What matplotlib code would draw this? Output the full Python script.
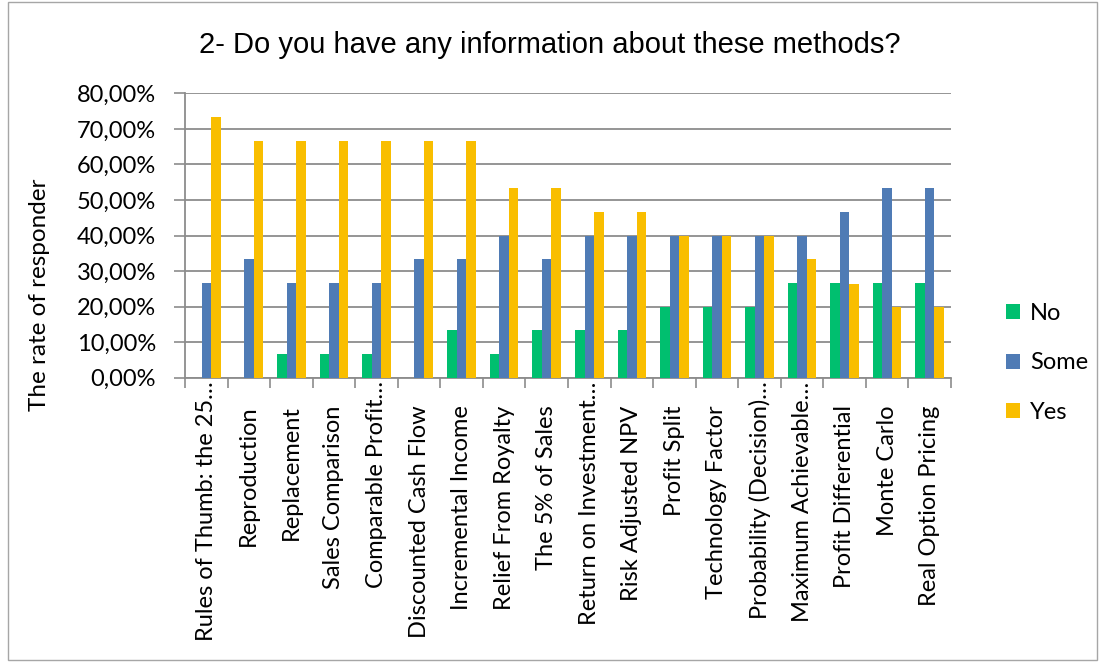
import matplotlib
matplotlib.use("Agg")
import matplotlib.pyplot as plt
import numpy as np
from matplotlib.patches import Rectangle
from matplotlib.transforms import ScaledTranslation

categories = ["Rules of Thumb: the 25…", "Reproduction", "Replacement", "Sales Comparison",
              "Comparable Profit…", "Discounted Cash Flow", "Incremental Income",
              "Relief From Royalty", "The 5% of Sales", "Return on Investment…",
              "Risk Adjusted NPV", "Profit Split", "Technology Factor",
              "Probability (Decision)…", "Maximum Achievable…", "Profit Differential",
              "Monte Carlo", "Real Option Pricing"]
no_vals = [0, 0, 6.67, 6.67, 6.67, 0, 13.33, 6.67, 13.33, 13.33, 13.33, 20, 20, 20,
           26.67, 26.67, 26.67, 26.67]
some_vals = [26.67, 33.33, 26.67, 26.67, 26.67, 33.33, 33.33, 40, 33.33, 40, 40, 40, 40,
             40, 40, 46.67, 53.33, 53.33]
yes_vals = [73.33, 66.67, 66.67, 66.67, 66.67, 66.67, 66.67, 53.33, 53.33, 46.67, 46.67,
            40, 40, 40, 33.33, 26.3, 20, 20]
series_names = ["No", "Some", "Yes"]
colors = ["#00BF6F", "#4F7BB5", "#F9BE00"]
yticks = [0, 10, 20, 30, 40, 50, 60, 70, 80]
ytick_labels = ["0,00%", "10,00%", "20,00%", "30,00%", "40,00%", "50,00%", "60,00%",
                "70,00%", "80,00%"]

FONT = "Lato"
fig = plt.figure(figsize=(10.99, 6.62), dpi=100)
fig.patches.append(Rectangle((8/1099, 2/662), 1 - 10/1099, 1 - 4/662,
                             transform=fig.transFigure, fill=False,
                             edgecolor="#A6A6A6", linewidth=1.0))
ax = fig.add_axes([185/1099, 1 - 377.7/662, 766/1099, (377.7 - 93.3)/662])

x = np.arange(len(categories))
w = 0.223
for i, (vals, name, c) in enumerate(zip([no_vals, some_vals, yes_vals], series_names, colors)):
    ax.bar(x + (i - 1) * w, vals, width=w, color=c, label=name, zorder=3)

ax.set_xlim(-0.5, len(categories) - 0.5)
ax.set_ylim(0, 80)
ax.set_yticks(yticks)
ax.set_yticklabels(ytick_labels, fontfamily=FONT, fontsize=17)
ax.yaxis.grid(True, color="#8C8C8C", linewidth=1.3, zorder=0)
ax.set_axisbelow(True)
ax.tick_params(axis="y", length=8, width=1.2, color="#8C8C8C", pad=13)

ax.set_xticks(x)
ax.set_xticklabels(categories, rotation=90, fontfamily=FONT, fontsize=17,
                   va="top", ha="center")
ax.set_xticks(np.arange(len(categories) + 1) - 0.5, minor=True)
ax.tick_params(axis="x", which="major", length=0, pad=20)
ax.tick_params(axis="x", which="minor", length=7, width=1.2, color="#8C8C8C")
for lab in ax.get_xticklabels():
    if lab.get_text().endswith("…"):
        lab.set_transform(lab.get_transform() + ScaledTranslation(0, 24/100, fig.dpi_scale_trans))

for s in ["top", "right"]:
    ax.spines[s].set_visible(False)
for s in ["left", "bottom"]:
    ax.spines[s].set_color("#8C8C8C")
    ax.spines[s].set_linewidth(1.3)

ax.set_ylabel("The rate of responder", fontfamily=FONT, fontsize=17.5, va="center")
ax.yaxis.set_label_coords((40 - 185) / 766, (377.7 - 295) / 284.4)

fig.text(0.5, 1 - 45/662, "2- Do you have any information about these methods?",
         ha="center", va="center", fontfamily="Liberation Sans", fontsize=21)

handles, labels = ax.get_legend_handles_labels()
leg = fig.legend(handles, labels, loc="center left",
                 bbox_to_anchor=(985/1099, 1 - 363/662), frameon=False,
                 prop={"family": FONT, "size": 17}, handlelength=0.6,
                 handleheight=0.6, handletextpad=0.4, labelspacing=1.2)

fig.savefig("out.png", dpi=100)
